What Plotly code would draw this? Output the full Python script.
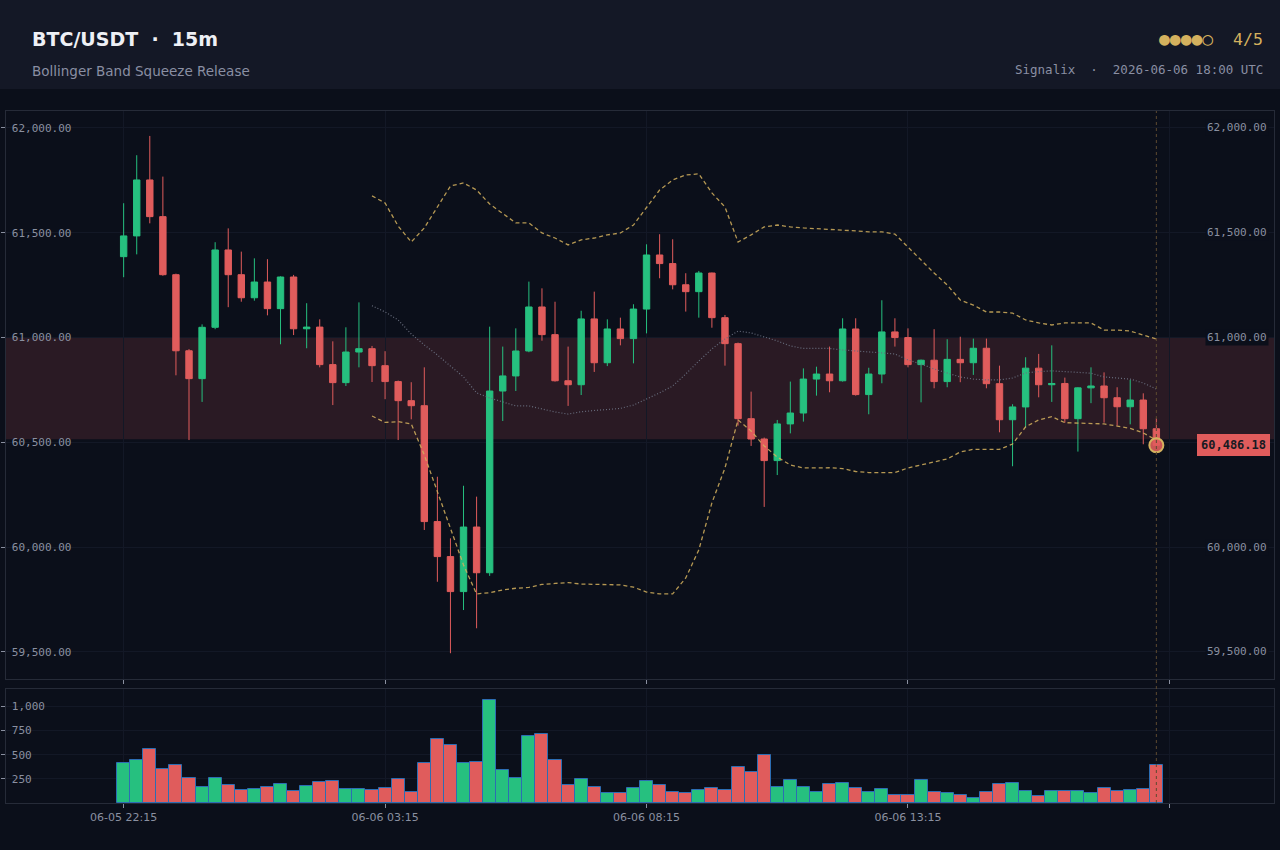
import pandas as pd
import plotly.graph_objects as go

# ---------------- data ----------------
times = pd.date_range("2026-06-05 22:15", periods=80, freq="15min")

opens = [61386, 61485, 61752, 61577, 61300, 60937, 60804, 61049, 61418, 61300,
         61190, 61265, 61138, 61289, 61042, 61050, 60871, 60785, 60931, 60947,
         60866, 60790, 60699, 60675, 60122, 59955, 59788, 60096, 59878, 60745,
         60817, 60936, 61146, 61014, 60794, 60775, 61089, 60880, 61041, 60995,
         61136, 61394, 61353, 61252, 61219, 61308, 61095, 60971, 60613, 60516,
         60413, 60588, 60640, 60802, 60826, 60794, 61041, 60728, 60826, 61027,
         61000, 60871, 60892, 60790, 60896, 60880, 60949, 60780, 60608, 60669,
         60854, 60775, 60781, 60613, 60760, 60769, 60713, 60670, 60702, 60565]
closes = [61485, 61752, 61577, 61300, 60937, 60804, 61049, 61418, 61300, 61190,
          61265, 61138, 61289, 61042, 61050, 60871, 60785, 60931, 60947, 60866,
          60790, 60699, 60675, 60122, 59955, 59788, 60096, 59878, 60745, 60817,
          60936, 61146, 61014, 60794, 60775, 61089, 60880, 61041, 60995, 61136,
          61394, 61353, 61252, 61219, 61308, 61095, 60971, 60613, 60516, 60413,
          60588, 60640, 60802, 60826, 60794, 61041, 60728, 60826, 61027, 61000,
          60871, 60892, 60790, 60896, 60880, 60949, 60780, 60608, 60669, 60854,
          60775, 60781, 60613, 60760, 60769, 60713, 60670, 60702, 60565, 60486.18]
highs = [61641, 61870, 61962, 61768, 61305, 60945, 61063, 61455, 61521, 61410,
         61378, 61374, 61292, 61299, 61164, 61087, 60982, 61049, 61168, 60960,
         60935, 60795, 60787, 60858, 60336, 60042, 60293, 60241, 61052, 60957,
         61044, 61267, 61235, 61171, 60957, 61128, 61219, 61087, 61095, 61159,
         61445, 61493, 61469, 61307, 61318, 61310, 61108, 60976, 60742, 60523,
         60607, 60790, 60853, 60861, 60957, 61092, 61092, 60856, 61178, 61092,
         61044, 60895, 61040, 60992, 61004, 60995, 60995, 60866, 60682, 60906,
         60922, 60963, 60809, 60763, 60858, 60834, 60763, 60798, 60734, 60615]
lows = [61288, 61397, 61545, 61295, 60820, 60511, 60693, 61040, 61145, 61171,
        61176, 61106, 60968, 61012, 60949, 60858, 60678, 60769, 60858, 60788,
        60706, 60511, 60610, 60082, 59835, 59494, 59700, 59613, 59863, 60602,
        60745, 60930, 60985, 60790, 60674, 60726, 60836, 60864, 60963, 60877,
        61020, 61283, 61230, 61124, 61095, 61047, 60866, 60580, 60483, 60192,
        60344, 60543, 60599, 60723, 60739, 60790, 60723, 60634, 60782, 60957,
        60858, 60691, 60758, 60763, 60787, 60822, 60758, 60548, 60386, 60570,
        60715, 60693, 60594, 60456, 60687, 60594, 60580, 60586, 60491, 60470]
volumes = [409, 443, 564, 347, 389, 255, 162, 255, 182, 131,
           141, 162, 193, 121, 172, 213, 227, 141, 141, 131,
           152, 244, 110, 409, 667, 605, 409, 420, 1069, 337,
           255, 698, 719, 440, 182, 244, 162, 100, 100, 152,
           224, 182, 110, 100, 131, 152, 131, 368, 317, 502,
           162, 234, 162, 110, 193, 203, 152, 110, 141, 79,
           79, 234, 110, 100, 79, 48, 110, 193, 203, 121,
           69, 121, 121, 121, 100, 152, 121, 131, 141, 389]

# Bollinger bands (start at 20th candle)
bb_upper = [61676, 61642, 61532, 61456, 61523, 61623, 61723, 61738, 61704, 61637,
            61594, 61547, 61547, 61499, 61475, 61442, 61466, 61475, 61490, 61499,
            61537, 61618, 61704, 61752, 61776, 61781, 61690, 61623, 61456, 61490,
            61528, 61537, 61528, 61523, 61520, 61518, 61513, 61509, 61504, 61504,
            61494, 61432, 61370, 61308, 61251, 61179, 61155, 61122, 61122, 61117,
            61084, 61070, 61060, 61070, 61070, 61070, 61036, 61036, 61031, 61012, 60993]
bb_mid = [61152, 61122, 61084, 61017, 60965, 60917, 60864, 60812, 60736, 60712,
          60693, 60674, 60674, 60659, 60645, 60635, 60646, 60652, 60657, 60662,
          60678, 60707, 60736, 60769, 60826, 60888, 60946, 60993, 61031, 61022,
          61003, 60984, 60960, 60948, 60948, 60948, 60941, 60936, 60931, 60929,
          60922, 60893, 60874, 60850, 60831, 60812, 60802, 60798, 60798, 60807,
          60831, 60838, 60841, 60836, 60834, 60830, 60812, 60807, 60802, 60783, 60755]
bb_lower = [60626, 60595, 60599, 60588, 60440, 60263, 60082, 59915, 59777, 59783,
            59796, 59804, 59808, 59822, 59827, 59831, 59824, 59823, 59822, 59820,
            59809, 59786, 59777, 59777, 59853, 59987, 60211, 60378, 60607, 60554,
            60483, 60430, 60392, 60378, 60378, 60379, 60375, 60361, 60356, 60355,
            60356, 60378, 60392, 60406, 60421, 60454, 60467, 60467, 60467, 60492,
            60574, 60607, 60623, 60594, 60593, 60591, 60588, 60578, 60567, 60545, 60511]
BB_START = 19

squeeze_zone = [60515, 61000]
price_ticks = [59500, 60000, 60500, 61000, 61500, 62000]
right_label_ticks = [59500, 60000, 61000, 61500, 62000]  # 60,500 hidden under price tag
vol_ticks = [250, 500, 750, 1000]
x_tickvals = ["2026-06-05 22:15", "2026-06-06 03:15", "2026-06-06 08:15",
              "2026-06-06 13:15", "2026-06-06 18:15"]
x_ticktext = ["06-05 22:15", "06-06 03:15", "06-06 08:15", "06-06 13:15", ""]
x_range = ["2026-06-05 20:00", "2026-06-06 20:15"]

# ---------------- style ----------------
BG = "#0b0f1a"
HEADER = "#141826"
GREEN = "#26c07f"
RED = "#e05c5c"
GOLD = "#d4b15e"
GRID = "#131826"
BORDER = "#262b38"
TICK = "#8a90a0"
MONO = "DejaVu Sans Mono"
SANS = "DejaVu Sans"

# plot area in pixels: x 6..1274, y 111..803
def px_x(px):
    return (px - 6) / 1268.0

def px_y(py):
    return (803 - py) / 692.0

fig = go.Figure()

fig.add_trace(go.Candlestick(
    x=times, open=opens, high=highs, low=lows, close=closes,
    increasing=dict(line=dict(color=GREEN, width=1), fillcolor=GREEN),
    decreasing=dict(line=dict(color=RED, width=1), fillcolor=RED),
    xaxis="x", yaxis="y", showlegend=False, hoverinfo="skip"))

bb_x = times[BB_START:]
fig.add_trace(go.Scatter(x=bb_x, y=bb_upper, mode="lines", xaxis="x", yaxis="y",
                         line=dict(color=GOLD, width=1.3, dash="4px,3px"), opacity=0.85,
                         showlegend=False, hoverinfo="skip"))
fig.add_trace(go.Scatter(x=bb_x, y=bb_lower, mode="lines", xaxis="x", yaxis="y",
                         line=dict(color=GOLD, width=1.3, dash="4px,3px"), opacity=0.85,
                         showlegend=False, hoverinfo="skip"))
fig.add_trace(go.Scatter(x=bb_x, y=bb_mid, mode="lines", xaxis="x", yaxis="y",
                         line=dict(color="#676c7c", width=1.2, dash="1px,2px"),
                         showlegend=False, hoverinfo="skip"))

fig.add_trace(go.Scatter(x=[times[-1]], y=[closes[-1]], mode="markers", xaxis="x", yaxis="y",
                         marker=dict(size=14, color="rgba(224,92,92,0.9)",
                                     line=dict(color=GOLD, width=2)),
                         showlegend=False, hoverinfo="skip"))

vol_colors = [GREEN if c >= o else RED for o, c in zip(opens, closes)]
fig.add_trace(go.Bar(x=times, y=volumes, xaxis="x2", yaxis="y2",
                     marker=dict(color=vol_colors, line=dict(color="#2c6db3", width=1)),
                     showlegend=False, hoverinfo="skip"))

shapes = [
    dict(type="rect", xref="paper", yref="paper", x0=px_x(0), x1=px_x(1280),
         y0=px_y(89), y1=px_y(0), fillcolor=HEADER, line=dict(width=0), layer="below"),
    dict(type="rect", xref="paper", yref="y", x0=0, x1=1, y0=squeeze_zone[0], y1=squeeze_zone[1],
         fillcolor="rgba(224,92,92,0.15)", line=dict(width=0), layer="below"),
    dict(type="line", xref="x", yref="paper", x0=times[-1], x1=times[-1], y0=0, y1=1,
         line=dict(color="#5e4a30", width=1, dash="dot"), layer="above"),
]

annotations = [
    dict(xref="paper", yref="paper", x=px_x(30), y=px_y(39), xanchor="left", yanchor="middle",
         text="<b>BTC/USDT\u00a0\u00a0·\u00a0\u00a015m</b>", showarrow=False,
         font=dict(family=SANS, size=19, color="#eef0f5")),
    dict(xref="paper", yref="paper", x=px_x(30), y=px_y(71), xanchor="left", yanchor="middle",
         text="Bollinger Band Squeeze Release", showarrow=False,
         font=dict(family=SANS, size=13.5, color="#8a8fa3")),
    dict(xref="paper", yref="paper", x=px_x(1265), y=px_y(39), xanchor="right", yanchor="middle",
         text="<span style='font-size:18px'>●●●●○</span>\u00a0\u00a04/5", showarrow=False,
         font=dict(family=MONO, size=16.5, color=GOLD)),
    dict(xref="paper", yref="paper", x=px_x(1265), y=px_y(70), xanchor="right", yanchor="middle",
         text="Signalix\u00a0\u00a0·\u00a0\u00a02026-06-06 18:00 UTC", showarrow=False,
         font=dict(family=MONO, size=12.5, color="#8a8fa3")),
]
for v in right_label_ticks:
    annotations.append(dict(xref="paper", yref="y", x=1, y=v, xanchor="right", yanchor="middle",
                            xshift=-5, text=f"{v:,.2f}", showarrow=False, bgcolor=BG,
                            borderpad=1, font=dict(family=MONO, size=11, color=TICK)))
annotations.append(dict(xref="paper", yref="y", x=1, y=closes[-1], xanchor="right", yanchor="middle",
                        xshift=-4, text=f"<b>{closes[-1]:,.2f}</b>", showarrow=False,
                        bgcolor=RED, bordercolor=RED, borderwidth=1, borderpad=3,
                        font=dict(family=MONO, size=12, color="#171a22")))

axis_common = dict(showline=True, mirror=True, linecolor=BORDER, linewidth=1,
                   gridcolor=GRID, gridwidth=1, zeroline=False, automargin=False)

fig.update_layout(
    width=1280, height=850,
    margin=dict(l=6, r=6, t=111, b=47, autoexpand=False),
    paper_bgcolor=BG, plot_bgcolor=BG,
    showlegend=False, bargap=0,
    shapes=shapes, annotations=annotations,
    xaxis=dict(domain=[0, 1], anchor="y", type="date", range=x_range,
               tickvals=x_tickvals, ticktext=x_ticktext, showticklabels=False,
               ticks="outside", ticklen=4, tickcolor=TICK, showgrid=True,
               rangeslider=dict(visible=False), **axis_common),
    xaxis2=dict(domain=[0, 1], anchor="y2", type="date", range=x_range, matches="x",
                tickvals=x_tickvals, ticktext=x_ticktext, showticklabels=True,
                ticks="outside", ticklen=4, tickcolor=TICK, showgrid=True,
                tickfont=dict(family=SANS, size=11, color=TICK), **axis_common),
    yaxis=dict(domain=[px_y(679), 1], anchor="x", range=[59371, 62081],
               tickvals=price_ticks, tickformat=",.2f", ticks="outside", ticklen=4,
               tickcolor=TICK, ticklabelposition="inside", ticklabelstandoff=5,
               showgrid=True, tickfont=dict(family=MONO, size=11, color=TICK), **axis_common),
    yaxis2=dict(domain=[0, px_y(689)], anchor="x2", range=[0, 1180],
                tickvals=vol_ticks, tickformat=",d", ticks="outside", ticklen=4,
                tickcolor=TICK, ticklabelposition="inside", ticklabelstandoff=5,
                showgrid=True, tickfont=dict(family=MONO, size=11, color=TICK), **axis_common),
)

fig.write_html("out.html")
